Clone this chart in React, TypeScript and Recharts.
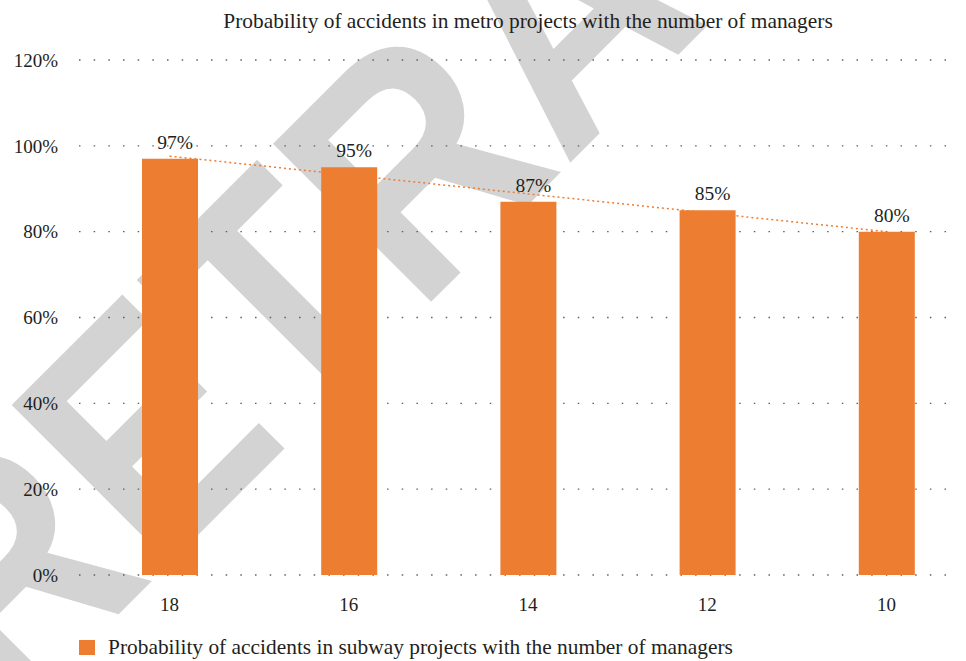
import {
  Bar,
  CartesianGrid,
  ComposedChart,
  LabelList,
  Line,
  XAxis,
  YAxis,
} from "recharts";

const managers = ["18", "16", "14", "12", "10"];
const probability = [97, 95, 87, 85, 80];
// dotted linear trend
const trend = [97.6, 93.2, 88.8, 84.4, 80.0];
const yTicks = [0, 20, 40, 60, 80, 100, 120];

const title = "Probability of accidents in metro projects with the number of managers";
const legendLabel =
  "Probability of accidents in subway projects with the number of managers";

const data = managers.map((m, i) => ({
  managers: m,
  probability: probability[i],
  trend: trend[i],
}));

const serif = '"Liberation Serif", "Times New Roman", serif';
const orange = "#ED7D31";
const ink = "#231f20";

export default function App() {
  return (
    <div style={{ position: "absolute", left: 0, top: 0, width: 966, height: 661 }}>
      {/* RETRACTED stamp behind the chart */}
      <svg
        width={966}
        height={661}
        style={{ position: "absolute", left: 0, top: 0 }}
      >
        <text
          transform="translate(8.4 724.6) rotate(-45) scale(0.89 1)"
          fontFamily='"Liberation Sans", Arial, sans-serif'
          fontWeight="bold"
          fontSize={325}
          fill="#d3d3d3"
        >
          RETRACTED
        </text>
      </svg>

      <div style={{ position: "absolute", left: 0, top: 0 }}>
        <ComposedChart
          width={966}
          height={661}
          data={data}
          margin={{ top: 60, right: 9, bottom: 46, left: 0 }}
        >
          <CartesianGrid
            vertical={false}
            stroke="#5f5f5f"
            strokeWidth={1.4}
            strokeDasharray="1.5 13.17"
          />
          <XAxis
            dataKey="managers"
            height={40}
            padding={{ left: 1, right: -19 }}
            tickLine={false}
            axisLine={false}
            tickMargin={17}
            tick={{ fontSize: 19, fill: ink, fontFamily: serif }}
          />
          <YAxis
            width={79}
            domain={[0, 120]}
            ticks={yTicks}
            tickFormatter={(v: number) => `${v}%`}
            tickLine={false}
            axisLine={false}
            tickMargin={15}
            tick={{ fontSize: 19, fill: ink, fontFamily: serif }}
          />
          <Bar
            dataKey="probability"
            fill={orange}
            barSize={56}
            isAnimationActive={false}
          >
            <LabelList
              dataKey="probability"
              position="top"
              offset={10}
              dx={5}
              formatter={(v: number) => `${v}%`}
              style={{ fontSize: 19.5, fill: ink, fontFamily: serif }}
            />
          </Bar>
          <Line
            dataKey="trend"
            stroke={orange}
            strokeWidth={1.5}
            strokeDasharray="2 3"
            dot={false}
            activeDot={false}
            legendType="none"
            isAnimationActive={false}
          />
        </ComposedChart>
      </div>

      <svg
        width={966}
        height={661}
        style={{ position: "absolute", left: 0, top: 0, pointerEvents: "none" }}
      >
        <text
          x={528}
          y={28}
          textAnchor="middle"
          fontFamily={serif}
          fontSize={21.4}
          fill={ink}
        >
          {title}
        </text>
        <rect x={79} y={640} width={16} height={15} fill={orange} />
        <text x={108} y={654} fontFamily={serif} fontSize={21.4} fill={ink}>
          {legendLabel}
        </text>
      </svg>
    </div>
  );
}
